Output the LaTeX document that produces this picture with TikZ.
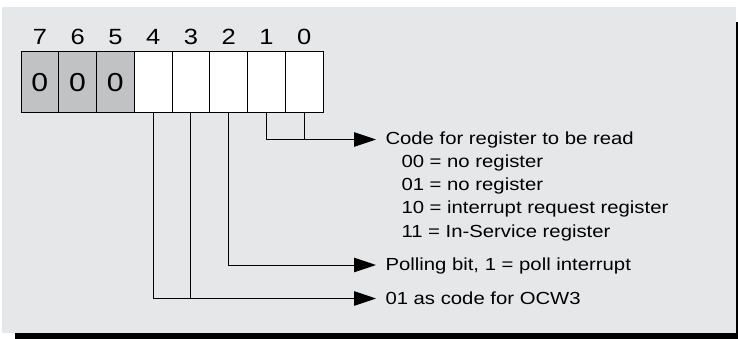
\documentclass[tikz,border=0pt]{standalone}
\usepackage{fontspec}
\setmainfont{Liberation Sans}[FakeStretch=1.16]
\usetikzlibrary{arrows.meta}
\definecolor{panel}{HTML}{E6E7E8}
\definecolor{fixedbit}{HTML}{C1C2C4}

\begin{document}
\begin{tikzpicture}[x=1pt, y=-1pt, line width=1pt,
    cell/.style={draw, minimum width=37.75pt, minimum height=61pt, inner sep=0pt, font=\fontsize{26}{26}\selectfont},
    bitno/.style={anchor=base, inner sep=0pt, font=\fontsize{22}{22}\selectfont},
    desc/.style={anchor=west, inner xsep=9pt, inner ysep=0pt, text height=11pt, text depth=0pt, font=\fontsize{17.5}{17.5}\selectfont},
    sub/.style={anchor=base west, inner sep=0pt, font=\fontsize{17.5}{17.5}\selectfont},
    conn/.style={-{Triangle[length=22pt, width=14.5pt]}}]
            \useasboundingbox (0,0) rectangle (738,339);
            
            % Panel with its shadow on the right and below
            \fill[panel] (2,7) rectangle (736,333);
            \fill[black] (736,22) rectangle (738,339);
            \fill[black] (15,333) rectangle (738,339);
            
            % Bit numbers above the register
            \foreach \b in {7,...,0} {
                \pgfmathsetmacro{\cx}{21+(7-\b)*37.75+18.875}
                \node[bitno] (l\b) at (\cx,45) {\b};
            }
            
            % The register cells, bits 7..5 are fixed to 0
            \foreach \b in {7,6,5} {
                \pgfmathsetmacro{\cx}{21+(7-\b)*37.75+18.875}
                \node[cell, fill=fixedbit] (b\b) at (\cx,82.5) {0};
            }
            \foreach \b in {4,...,0} {
                \pgfmathsetmacro{\cx}{21+(7-\b)*37.75+18.875}
                \node[cell, fill=white] (b\b) at (\cx,82.5) {};
            }
            
            % Descriptions
            \node[desc] (code) at (376,139.5) {Code for register to be read};
            \node[sub] (c00) at (401,167.5) {00 = no register};
            \node[sub] (c01) at (401,190.7) {01 = no register};
            \node[sub] (c10) at (401,213.9) {10 = interrupt request register};
            \node[sub] (c11) at (401,237.1) {11 = In-Service register};
            \node[desc] (poll) at (376,265) {Polling bit, 1 = poll interrupt};
            \node[desc] (ocw) at (376,298.5) {01 as code for OCW3};
            
            % Bits 1 and 0
            \draw[conn] (b1.south) |- (code.west);
            \draw (b0.south) -- (b0.south |- code.west);
            
            % Bit 2
            \draw[conn] (b2.south) |- (poll.west);
            
            % Bits 4 and 3
            \draw[conn] (b4.south) |- (ocw.west);
            \draw (b3.south) -- (b3.south |- ocw.west);
            
\end{tikzpicture}
\end{document}
